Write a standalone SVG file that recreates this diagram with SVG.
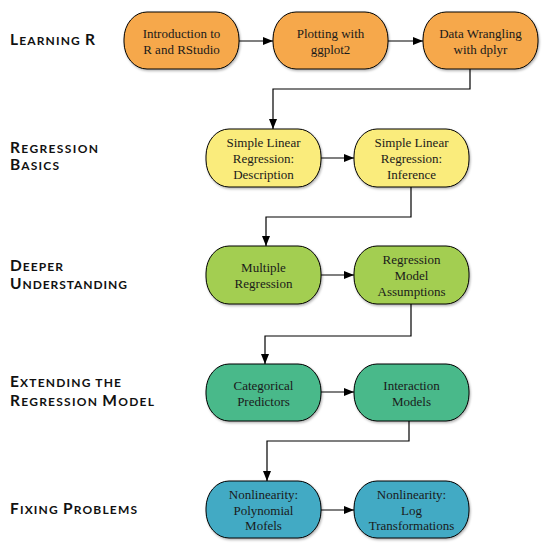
<svg xmlns="http://www.w3.org/2000/svg" width="549" height="550" viewBox="0 0 549 550">
<defs>
<style>
.node rect{stroke:#000;stroke-width:1;filter:url(#sh)}
.node text{font-family:"Liberation Serif","Times New Roman",serif;font-size:13px;fill:#1a1a1a;text-anchor:middle}
.c1 rect{fill:#F6A84C}
.c2 rect{fill:#FAEC7C}
.c3 rect{fill:#A3CE51}
.c4 rect{fill:#49B98A}
.c5 rect{fill:#42AAC4}
.lab{font-family:"Lato","Liberation Sans",sans-serif;font-weight:bold;font-size:12px;fill:#111}
.lab tspan.big{font-size:15.5px}
#connectors path{fill:none;stroke:#000;stroke-width:1.2;marker-end:url(#ah)}
</style>
<filter id="sh" x="-10%" y="-10%" width="130%" height="130%">
<feDropShadow dx="1" dy="1.5" stdDeviation="1" flood-color="#000" flood-opacity="0.3"/>
</filter>
<marker id="ah" markerUnits="userSpaceOnUse" markerWidth="10" markerHeight="8" refX="10" refY="4" orient="auto">
<path d="M0,0 L10,4 L0,8 Z" fill="#000"/>
</marker>
</defs>
<rect width="549" height="550" fill="#fff"/>

<g id="labels">
<text class="lab" x="10" y="45" textLength="85" lengthAdjust="spacing"><tspan class="big">L</tspan>EARNING <tspan class="big">R</tspan></text>
<text class="lab" x="10" y="153" textLength="88" lengthAdjust="spacing"><tspan class="big">R</tspan>EGRESSION</text>
<text class="lab" x="10" y="170" textLength="49" lengthAdjust="spacing"><tspan class="big">B</tspan>ASICS</text>
<text class="lab" x="10" y="271" textLength="53" lengthAdjust="spacing"><tspan class="big">D</tspan>EEPER</text>
<text class="lab" x="10" y="289" textLength="117" lengthAdjust="spacing"><tspan class="big">U</tspan>NDERSTANDING</text>
<text class="lab" x="10" y="387" textLength="111" lengthAdjust="spacing"><tspan class="big">E</tspan>XTENDING THE</text>
<text class="lab" x="10" y="405.5" textLength="144" lengthAdjust="spacing"><tspan class="big">R</tspan>EGRESSION <tspan class="big">M</tspan>ODEL</text>
<text class="lab" x="10" y="514" textLength="127" lengthAdjust="spacing"><tspan class="big">F</tspan>IXING <tspan class="big">P</tspan>ROBLEMS</text>
</g>

<g id="connectors">
<path d="M239,41 H273"/>
<path d="M388,41 H423"/>
<path d="M470,69 V89 H273 V129"/>
<path d="M321,158 H354"/>
<path d="M411,187 V217 H266 V246"/>
<path d="M321,275 H354"/>
<path d="M411,304 V336 H265 V364"/>
<path d="M321,392 H354"/>
<path d="M409,421 V441 H267 V481"/>
<path d="M321,510 H354"/>
</g>

<g id="n1" class="node c1"><rect x="124" y="12" width="115" height="57" rx="23" ry="27"/>
<text x="181.5" y="38">Introduction to</text><text x="181.5" y="54">R and RStudio</text></g>
<g id="n2" class="node c1"><rect x="273" y="12" width="115" height="57" rx="23" ry="27"/>
<text x="330.5" y="38">Plotting with</text><text x="330.5" y="54">ggplot2</text></g>
<g id="n3" class="node c1"><rect x="423" y="12" width="115" height="57" rx="23" ry="27"/>
<text x="480.5" y="38">Data Wrangling</text><text x="480.5" y="54">with dplyr</text></g>

<g id="n4" class="node c2"><rect x="206" y="129" width="115" height="58" rx="23" ry="27"/>
<text x="263.5" y="147.3">Simple Linear</text><text x="263.5" y="163">Regression:</text><text x="263.5" y="178.5">Description</text></g>
<g id="n5" class="node c2"><rect x="354" y="129" width="115" height="58" rx="23" ry="27"/>
<text x="411.5" y="147.3">Simple Linear</text><text x="411.5" y="163">Regression:</text><text x="411.5" y="178.5">Inference</text></g>

<g id="n6" class="node c3"><rect x="206" y="246" width="115" height="58" rx="23" ry="27"/>
<text x="263.5" y="272">Multiple</text><text x="263.5" y="288">Regression</text></g>
<g id="n7" class="node c3"><rect x="354" y="246" width="115" height="58" rx="23" ry="27"/>
<text x="411.5" y="264.3">Regression</text><text x="411.5" y="280">Model</text><text x="411.5" y="295.5">Assumptions</text></g>

<g id="n8" class="node c4"><rect x="206" y="364" width="115" height="57" rx="23" ry="27"/>
<text x="263.5" y="389.5">Categorical</text><text x="263.5" y="405.5">Predictors</text></g>
<g id="n9" class="node c4"><rect x="354" y="364" width="115" height="57" rx="23" ry="27"/>
<text x="411.5" y="389.5">Interaction</text><text x="411.5" y="405.5">Models</text></g>

<g id="n10" class="node c5"><rect x="206" y="481" width="115" height="57" rx="23" ry="27"/>
<text x="263.5" y="499">Nonlinearity:</text><text x="263.5" y="514.7">Polynomial</text><text x="263.5" y="530.3">Mofels</text></g>
<g id="n11" class="node c5"><rect x="354" y="481" width="115" height="57" rx="23" ry="27"/>
<text x="411.5" y="499">Nonlinearity:</text><text x="411.5" y="514.7">Log</text><text x="411.5" y="530.3">Transformations</text></g>
</svg>
